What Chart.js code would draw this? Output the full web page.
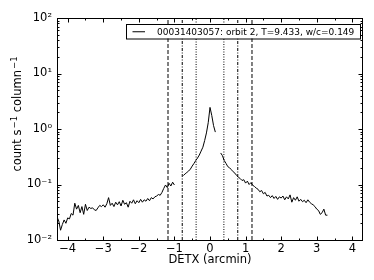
<!DOCTYPE html>
<html><head><meta charset="utf-8">
<script src="https://cdn.jsdelivr.net/npm/chart.js@4/dist/chart.umd.min.js"></script>
<style>html,body{margin:0;padding:0;background:#fff}</style>
</head><body>
<canvas id="c" width="374" height="280" style="width:374px;height:280px;display:block"></canvas>
<script>
// ---- data (DETX in arcmin, rate in count s^-1 column^-1) ----
const detxLeft = [-4.30,-4.25,-4.20,-4.15,-4.10,-4.05,-4.00,-3.95,-3.90,-3.85,-3.80,-3.75,-3.70,-3.65,-3.60,-3.55,-3.50,-3.45,-3.40,-3.35,-3.30,-3.25,-3.20,-3.15,-3.10,-3.05,-3.00,-2.95,-2.90,-2.85,-2.80,-2.75,-2.70,-2.65,-2.60,-2.55,-2.50,-2.45,-2.40,-2.35,-2.30,-2.25,-2.20,-2.15,-2.10,-2.05,-2.00,-1.95,-1.90,-1.85,-1.80,-1.75,-1.70,-1.65,-1.60,-1.55,-1.50,-1.45,-1.40,-1.35,-1.30,-1.25,-1.20,-1.15,-1.10,-1.05,-1.00];
const rateLeft = [0.026,0.022,0.015,0.019,0.023,0.020,0.025,0.024,0.030,0.028,0.046,0.036,0.042,0.031,0.040,0.029,0.044,0.034,0.039,0.037,0.038,0.035,0.034,0.038,0.042,0.040,0.043,0.039,0.045,0.058,0.042,0.046,0.040,0.048,0.043,0.049,0.041,0.052,0.044,0.047,0.039,0.050,0.046,0.053,0.045,0.051,0.047,0.054,0.048,0.053,0.050,0.056,0.051,0.058,0.055,0.060,0.062,0.066,0.064,0.072,0.085,0.098,0.088,0.105,0.094,0.110,0.098];
const detxMid = [-0.75,-0.70,-0.65,-0.60,-0.55,-0.50,-0.45,-0.40,-0.35,-0.30,-0.25,-0.20,-0.15,-0.10,-0.05,0.00,0.05,0.10,0.15];
const rateMid = [0.145,0.155,0.165,0.175,0.19,0.215,0.24,0.27,0.30,0.34,0.40,0.47,0.62,0.85,1.30,2.45,1.75,1.15,0.88];
const detxRight = [0.30,0.35,0.40,0.45,0.50,0.55,0.60,0.65,0.70,0.75,0.80,0.85,0.90,0.95,1.00,1.05,1.10,1.15,1.20,1.25,1.30,1.35,1.40,1.45,1.50,1.55,1.60,1.65,1.70,1.75,1.80,1.85,1.90,1.95,2.00,2.05,2.10,2.15,2.20,2.25,2.30,2.35,2.40,2.45,2.50,2.55,2.60,2.65,2.70,2.75,2.80,2.85,2.90,2.95,3.00,3.05,3.10,3.15,3.20,3.25,3.30];
const rateRight = [0.37,0.33,0.27,0.24,0.21,0.20,0.185,0.17,0.16,0.145,0.135,0.128,0.118,0.122,0.106,0.115,0.100,0.108,0.097,0.092,0.086,0.082,0.074,0.078,0.068,0.072,0.062,0.064,0.058,0.063,0.056,0.061,0.054,0.060,0.057,0.062,0.053,0.060,0.055,0.065,0.048,0.058,0.052,0.060,0.050,0.054,0.049,0.052,0.047,0.053,0.048,0.045,0.043,0.040,0.036,0.034,0.029,0.031,0.036,0.028,0.028];
const dashedLines = [-1.18, 1.18];
const dashDotLines = [-0.78, 0.78];
const dottedLines = [-0.39, 0.39];
const xTicks = [-4,-3,-2,-1,0,1,2,3,4];
const yTicks = [0.01,0.1,1,10,100];
const yTickLabels = ['10\u207B\u00B2','10\u207B\u00B9','10\u2070','10\u00B9','10\u00B2'];
const legendLabel = '00031403057: orbit 2, T=9.433, w/c=0.149';
const xTitle = 'DETX (arcmin)';
const yTitleParts = [['count s', false], ['\u22121', true], [' column', false], ['\u22121', true]];

const FONT = 'DejaVu Sans';
const pts = (xs, ys) => xs.map((x, i) => ({x, y: ys[i]}));
const vline = (x, dash) => ({data: [{x, y: 0.01}, {x, y: 100}], borderColor: '#000', borderWidth: 1, borderDash: dash, pointRadius: 0, fill: false});
const curve = (xs, ys) => ({data: pts(xs, ys), borderColor: '#000', borderWidth: 1, pointRadius: 0, fill: false, tension: 0});

const datasets = [
  ...dashedLines.map(x => vline(x, [4, 2])),
  ...dashDotLines.map(x => vline(x, [3, 1.5, 1, 1.5])),
  ...dottedLines.map(x => vline(x, [1, 1.5])),
  curve(detxLeft, rateLeft),
  curve(detxMid, rateMid),
  curve(detxRight, rateRight)
];

const decor = {
  id: 'decor',
  afterDraw(chart) {
    const {ctx, chartArea: a, scales: {x, y}} = chart;
    ctx.save();
    // legend box
    const lx0 = 126, lx1 = 360, ly0 = 24, ly1 = 38.5;
    ctx.fillStyle = '#fff';
    ctx.fillRect(lx0, ly0, lx1 - lx0, ly1 - ly0);
    ctx.strokeStyle = '#000';
    ctx.lineWidth = 1;
    ctx.strokeRect(lx0 + 0.5, ly0 + 0.5, lx1 - lx0, ly1 - ly0);
    const ym = (ly0 + ly1) / 2 + 0.5;
    ctx.beginPath(); ctx.moveTo(132.5, ym); ctx.lineTo(145, ym); ctx.stroke();
    ctx.fillStyle = '#000';
    ctx.font = '9px "' + FONT + '"';
    ctx.textBaseline = 'middle';
    ctx.textAlign = 'left';
    ctx.fillText(legendLabel, 157, ym + 0.5);
    // y axis title with real superscripts
    const mainF = '11.5px "' + FONT + '"', supF = '8.5px "' + FONT + '"';
    let total = 0;
    const widths = yTitleParts.map(([t, sup]) => { ctx.font = sup ? supF : mainF; const w = ctx.measureText(t).width + (sup ? 1 : 0); total += w; return w; });
    ctx.translate(21, 114);
    ctx.rotate(-Math.PI / 2);
    ctx.textBaseline = 'alphabetic';
    let u = -total / 2;
    yTitleParts.forEach(([t, sup], i) => {
      ctx.font = sup ? supF : mainF;
      ctx.fillText(t, u + (sup ? 1 : 0), sup ? -4.5 : 0);
      u += widths[i];
    });
    ctx.setTransform(1, 0, 0, 1, 0, 0);
    // frame
    ctx.strokeRect(Math.round(a.left) + 0.5, Math.round(a.top) + 0.5, Math.round(a.right - a.left) - 1, Math.round(a.bottom - a.top));
    // inward ticks
    ctx.beginPath();
    const T = Math.round(a.top) + 0.5, B = Math.round(a.bottom) + 0.5, L = Math.round(a.left) + 0.5, R = Math.round(a.right) - 0.5;
    const xt = (v, len) => { const p = Math.round(x.getPixelForValue(v)) + 0.5; ctx.moveTo(p, B); ctx.lineTo(p, B - len); ctx.moveTo(p, T); ctx.lineTo(p, T + len); };
    for (let v = -4; v <= 4; v++) xt(v, 4);
    for (let v = -4.5; v <= 4.5; v += 1) if (v > -4.3 && v < 4.3) xt(v, 2);
    const yt = (v, len) => { const p = Math.round(y.getPixelForValue(v)) + 0.5; ctx.moveTo(L, p); ctx.lineTo(L + len, p); ctx.moveTo(R, p); ctx.lineTo(R - len, p); };
    for (const d of yTicks) {
      yt(d, 4);
      if (d < 100) for (let m = 2; m <= 9; m++) yt(d * m, 2);
    }
    ctx.stroke();
    ctx.restore();
  }
};

new Chart(document.getElementById('c'), {
  type: 'line',
  data: {datasets},
  options: {
    responsive: false,
    animation: false,
    devicePixelRatio: 1,
    layout: {padding: {top: 18, right: 11, left: 0, bottom: 0}},
    plugins: {legend: {display: false}, tooltip: {enabled: false}},
    elements: {line: {borderCapStyle: 'butt'}},
    scales: {
      x: {
        type: 'linear', min: -4.3, max: 4.3,
        afterBuildTicks: s => { s.ticks = xTicks.map(v => ({value: v})); },
        afterFit: s => { s.height = 40; },
        grid: {display: false, drawTicks: false},
        border: {display: false},
        ticks: {color: '#000', font: {family: FONT, size: 11.5}, padding: 2, maxRotation: 0,
          callback: v => (v < 0 ? '\u2212' + Math.abs(v) : String(v))},
        title: {display: true, text: xTitle, color: '#000', font: {family: FONT, size: 11.5}, padding: {top: 0, bottom: 13}}
      },
      y: {
        type: 'logarithmic', min: 0.01, max: 100,
        afterBuildTicks: s => { s.ticks = yTicks.map(v => ({value: v})); },
        afterFit: s => { s.width = 57; },
        grid: {display: false, drawTicks: false},
        border: {display: false},
        ticks: {color: '#000', font: {family: FONT, size: 11.5}, padding: 5,
          callback: v => { const i = yTicks.findIndex(t => Math.abs(Math.log10(t) - Math.log10(v)) < 1e-6); return i >= 0 ? yTickLabels[i] : ''; }},
        title: {display: false}
      }
    }
  },
  plugins: [decor]
});
</script>
</body></html>
